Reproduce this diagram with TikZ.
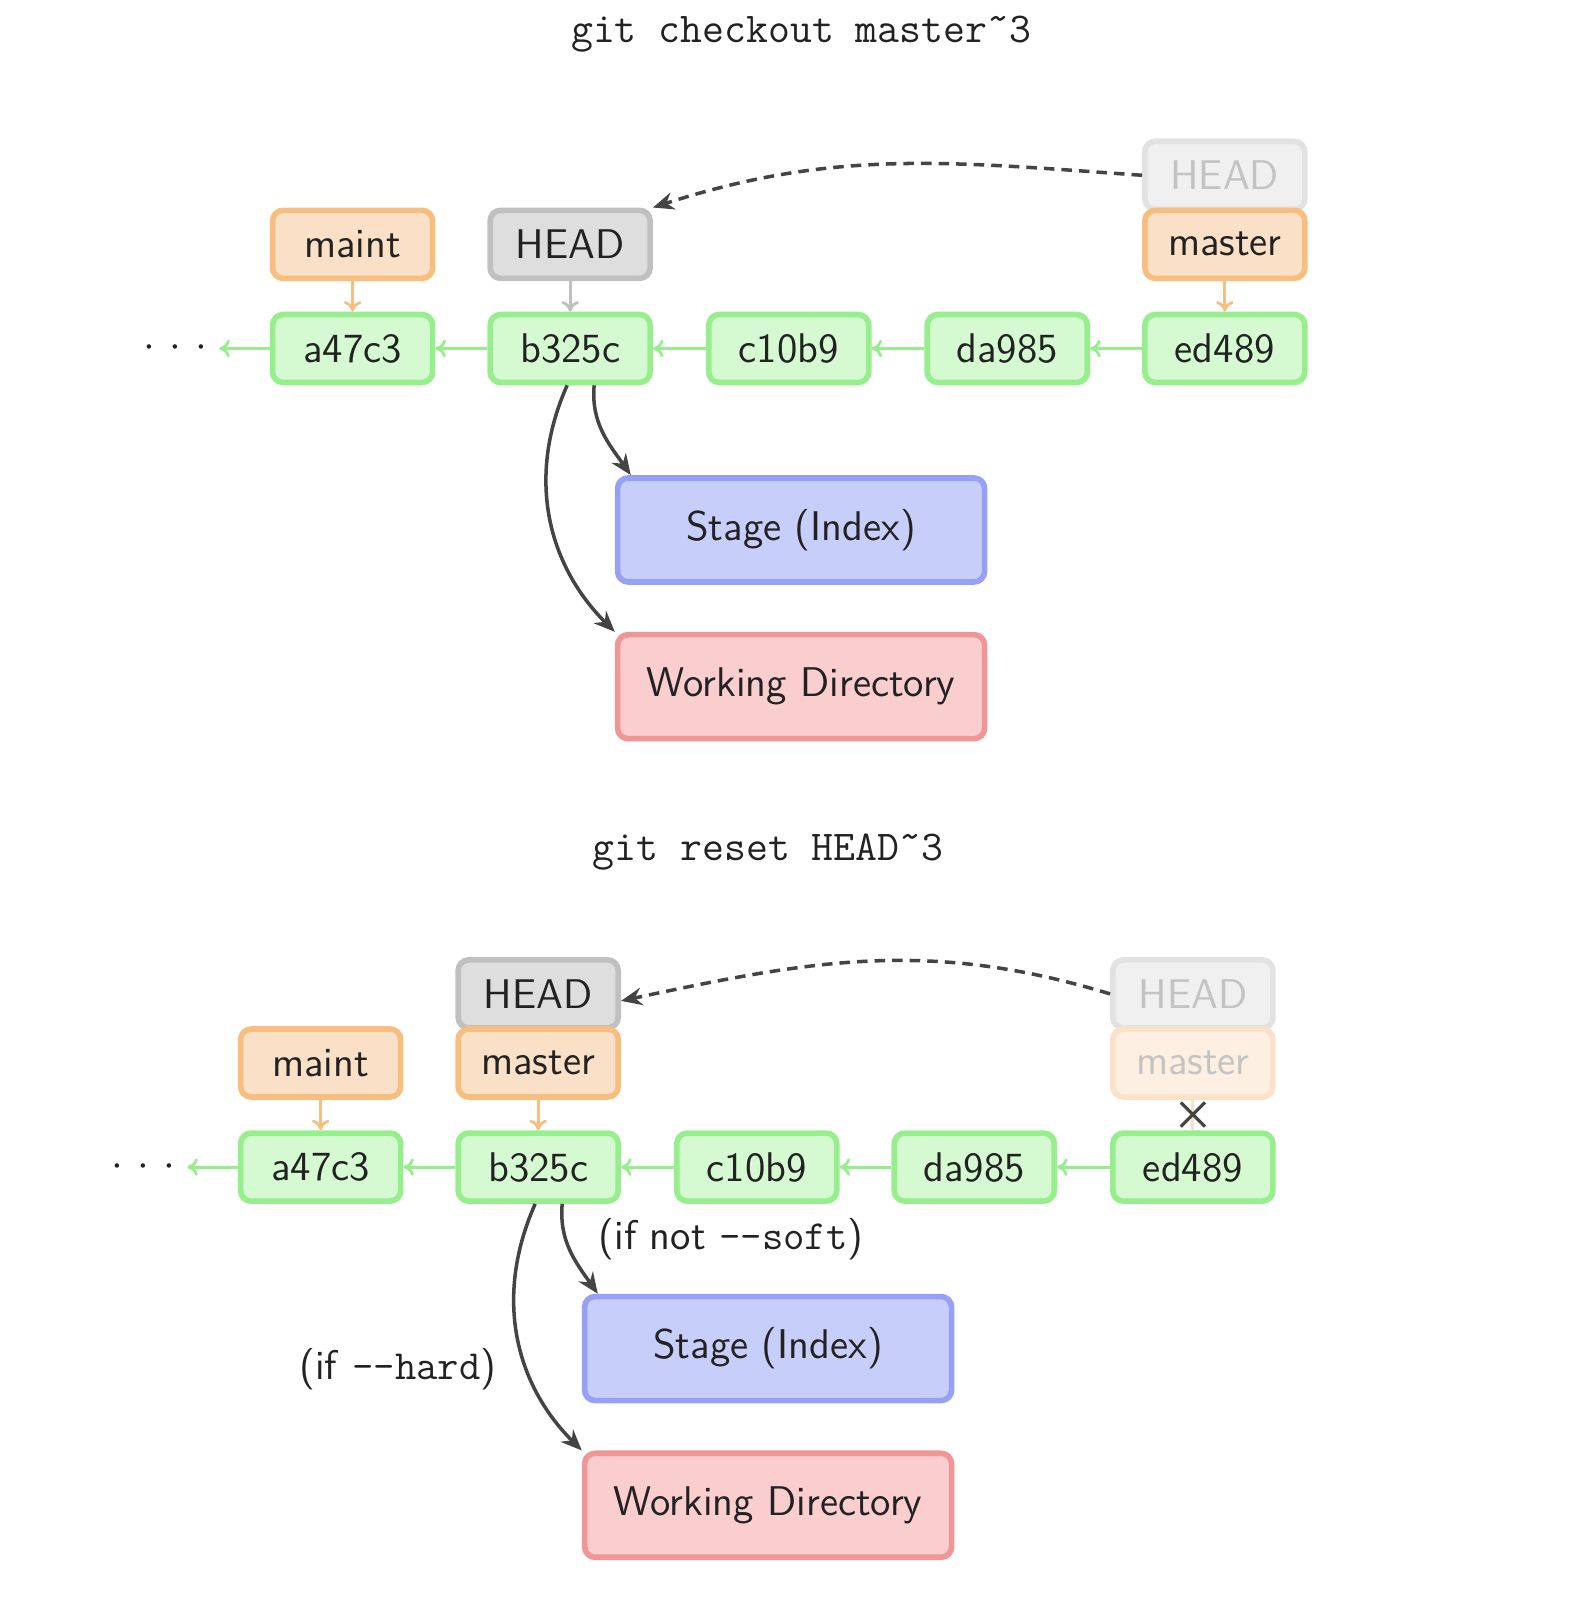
\documentclass[tikz,border=0pt]{standalone}
\usetikzlibrary{arrows.meta,shapes.misc}

\definecolor{commitfill}{RGB}{213,250,210}
\definecolor{commitline}{RGB}{150,238,140}
\definecolor{branchfill}{RGB}{250,224,198}
\definecolor{branchline}{RGB}{248,190,128}
\definecolor{headfill}{RGB}{222,222,222}
\definecolor{headline}{RGB}{192,192,192}
\definecolor{ghostfill}{RGB}{240,240,240}
\definecolor{ghostline}{RGB}{226,226,226}
\definecolor{ghostbfill}{RGB}{253,239,225}
\definecolor{ghostbline}{RGB}{250,226,200}
\definecolor{ghosttext}{RGB}{195,195,195}
\definecolor{stagefill}{RGB}{200,206,250}
\definecolor{stageline}{RGB}{150,160,245}
\definecolor{workfill}{RGB}{250,206,206}
\definecolor{workline}{RGB}{240,150,150}
\definecolor{inktext}{RGB}{34,34,34}
\definecolor{arrowink}{RGB}{68,68,68}

\tikzset{
    box/.style={draw, line width=1.6pt, rounded corners=3pt, inner sep=0pt,
        minimum width=1.60cm, minimum height=0.68cm, text=inktext},
    commit/.style={box, draw=commitline, fill=commitfill},
    branch/.style={box, draw=branchline, fill=branchfill},
    headref/.style={box, draw=headline, fill=headfill},
    ghosthead/.style={box, draw=ghostline, fill=ghostfill, text=ghosttext},
    ghostbranch/.style={box, draw=ghostbline, fill=ghostbfill, text=ghosttext},
    area/.style={box, minimum width=3.67cm, minimum height=1.04cm},
    stagebox/.style={area, draw=stageline, fill=stagefill},
    workbox/.style={area, draw=workline, fill=workfill},
    parent/.style={draw=commitline, line width=0.8pt, -{To[length=3pt,width=5pt]}},
    pointer/.style={draw=branchline, line width=0.8pt, -{To[length=3pt,width=5pt]}},
    headptr/.style={draw=headline, line width=0.8pt, -{To[length=3pt,width=5pt]}},
    update/.style={draw=arrowink, line width=1pt, -{Stealth[length=6pt,width=5pt,inset=2pt]}},
    moved/.style={update, dash pattern=on 3pt off 2pt},
    command/.style={font=\fontsize{12.1}{14}\selectfont\ttfamily, text=inktext},
}

\begin{document}
\begin{tikzpicture}[x=1.031cm, y=1.031cm,
    every node/.style={font=\fontsize{11.8}{14}\selectfont\sffamily}]
    \useasboundingbox (0,0) rectangle (15.228,-15.674);

    % git checkout
    \node[command] (checkoutTitle) at (7.77,-0.33) {git checkout master\symbol{"02DC}3};
    \foreach \id/\x in {a47c3/3.42, b325c/5.53, c10b9/7.65, da985/9.77, ed489/11.88}
        \node[commit] (co\id) at (\x,-3.38) {\id};
    \node[text=inktext] (coDots) at (1.70,-3.38) {$\cdot$\hspace{4pt}$\cdot$\hspace{4pt}$\cdot$};
    \foreach \a/\b in {b325c/a47c3, c10b9/b325c, da985/c10b9, ed489/da985}
        \draw[parent] (co\a) -- (co\b);
    \draw[parent] (coa47c3) -- (coDots);
    \node[branch] (coMaint) at (3.42,-2.37) {maint};
    \node[headref] (coHead) at (5.53,-2.37) {HEAD};
    \node[ghosthead] (coOldHead) at (11.88,-1.70) {HEAD};
    \node[branch] (coMaster) at (11.88,-2.37) {master};
    \draw[pointer] (coMaint) -- (coa47c3);
    \draw[pointer] (coMaster) -- (coed489);
    \draw[headptr] (coHead) -- (cob325c);
    \draw[moved] (coOldHead.west) to[out=176,in=18] (coHead.north east);
    \node[stagebox] (coStage) at (7.77,-5.14) {Stage (Index)};
    \node[workbox] (coWork) at (7.77,-6.66) {Working Directory};
    \draw[update] ([xshift=0.24cm]cob325c.south) to[out=265,in=125] ([xshift=0.16cm]coStage.north west);
    \draw[update] ([xshift=-0.03cm]cob325c.south) to[out=246,in=135] (coWork.north west);

    % git reset
    \node[command] (resetTitle) at (7.45,-8.26) {git reset HEAD\symbol{"02DC}3};
    \foreach \id/\x in {a47c3/3.11, b325c/5.22, c10b9/7.34, da985/9.45, ed489/11.57}
        \node[commit] (rs\id) at (\x,-11.32) {\id};
    \node[text=inktext] (rsDots) at (1.39,-11.32) {$\cdot$\hspace{4pt}$\cdot$\hspace{4pt}$\cdot$};
    \foreach \a/\b in {b325c/a47c3, c10b9/b325c, da985/c10b9, ed489/da985}
        \draw[parent] (rs\a) -- (rs\b);
    \draw[parent] (rsa47c3) -- (rsDots);
    \node[branch] (rsMaint) at (3.11,-10.31) {maint};
    \node[headref] (rsHead) at (5.22,-9.64) {HEAD};
    \node[branch] (rsMaster) at (5.22,-10.31) {master};
    \node[ghosthead] (rsOldHead) at (11.57,-9.64) {HEAD};
    \node[ghostbranch] (rsOldMaster) at (11.57,-10.31) {master};
    \draw[pointer] (rsMaint) -- (rsa47c3);
    \draw[pointer] (rsMaster) -- (rsb325c);
    \draw[draw=ghostbline, line width=0.8pt] (rsOldMaster) -- (rsed489);
    \node[cross out, draw=arrowink, line width=0.9pt, minimum size=0.21cm, inner sep=0pt] (rsCut) at (11.57,-10.81) {};
    \draw[moved] (rsOldHead.west) to[out=163,in=12] ([yshift=-0.07cm]rsHead.east);
    \node[stagebox] (rsStage) at (7.45,-13.08) {Stage (Index)};
    \node[workbox] (rsWork) at (7.45,-14.60) {Working Directory};
    \draw[update] ([xshift=0.24cm]rsb325c.south) to[out=265,in=125] ([xshift=0.16cm]rsStage.north west);
    \draw[update] ([xshift=-0.03cm]rsb325c.south) to[out=246,in=135] (rsWork.north west);
    \node[text=inktext] (notSoft) at (7.09,-12.02) {(if not \texttt{-{}-soft})};
    \node[text=inktext] (ifHard) at (3.86,-13.28) {(if \texttt{-{}-hard})};
\end{tikzpicture}
\end{document}
